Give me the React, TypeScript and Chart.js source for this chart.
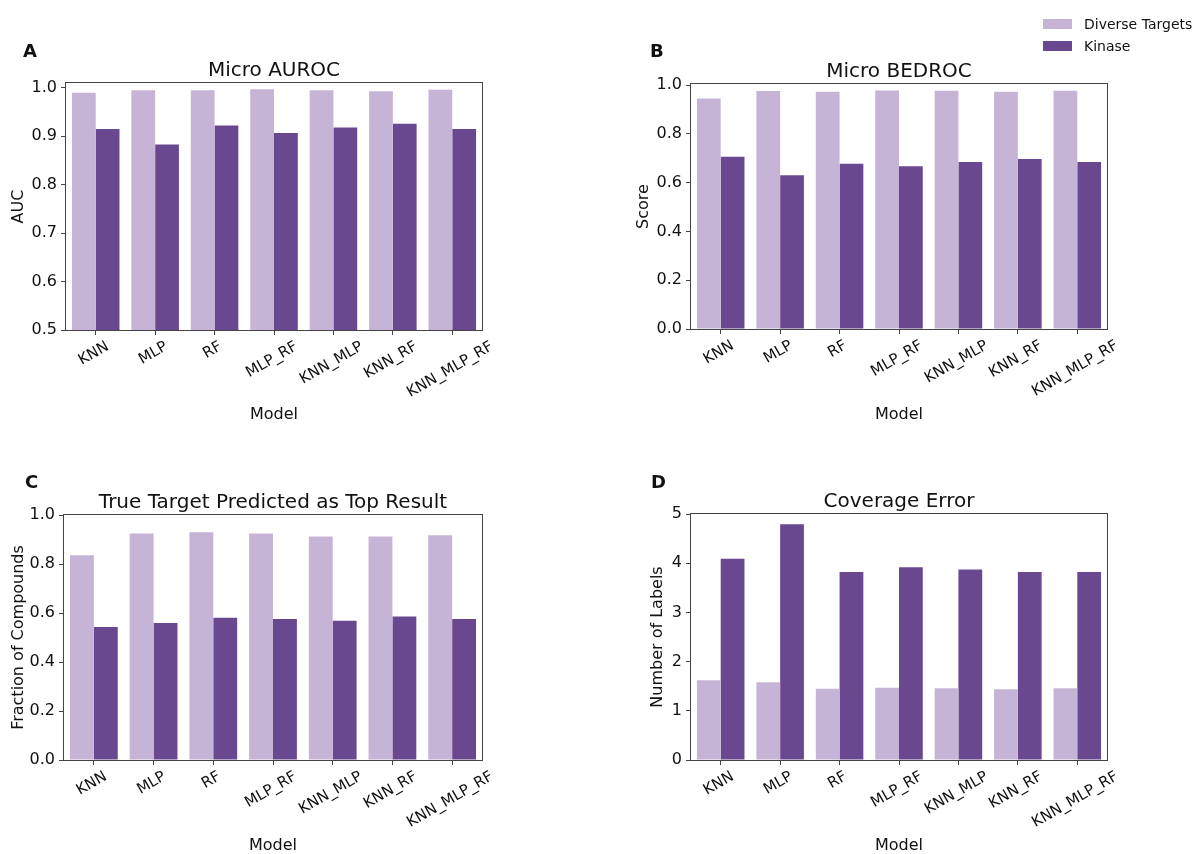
import { useEffect, useRef } from "react";
import { Chart, registerables } from "chart.js";
Chart.register(...registerables);

const models = ["KNN", "MLP", "RF", "MLP_RF", "KNN_MLP", "KNN_RF", "KNN_MLP_RF"];
const seriesNames = ["Diverse Targets", "Kinase"];

const aurocDiverse = [0.99, 0.995, 0.995, 0.997, 0.995, 0.993, 0.996];
const aurocKinase = [0.915, 0.883, 0.922, 0.907, 0.918, 0.926, 0.915];
const bedrocDiverse = [0.946, 0.976, 0.973, 0.978, 0.977, 0.973, 0.977];
const bedrocKinase = [0.707, 0.631, 0.678, 0.668, 0.685, 0.697, 0.685];
const topDiverse = [0.836, 0.925, 0.93, 0.925, 0.912, 0.912, 0.917];
const topKinase = [0.543, 0.559, 0.581, 0.576, 0.568, 0.586, 0.576];
const covDiverse = [1.62, 1.58, 1.45, 1.47, 1.46, 1.44, 1.46];
const covKinase = [4.09, 4.79, 3.82, 3.92, 3.87, 3.82, 3.82];

const aurocTicks = [0.5, 0.6, 0.7, 0.8, 0.9, 1.0];
const scoreTicks = [0.0, 0.2, 0.4, 0.6, 0.8, 1.0];
const countTicks = [0, 1, 2, 3, 4, 5];

const FONT = "'DejaVu Sans', sans-serif";
const TEXT = "#111111";
const SPINE = "#444444";
const LIGHT = "#c6b4d6";
const DARK = "#6a4890";

type Panel = {
  letter: string; title: string; yLabel: string;
  diverse: number[]; kinase: number[]; ticks: number[];
  min: number; max: number; dec: number;
  x0: number; y0: number; w: number; h: number;
  left: number; top: number; right: number; bottom: number;
  yTitleX: number; xTitleY: number; letterX: number; letterY: number;
};

const panels: Panel[] = [
  { letter: "A", title: "Micro AUROC", yLabel: "AUC", diverse: aurocDiverse, kinase: aurocKinase, ticks: aurocTicks,
    min: 0.5, max: 1.01, dec: 1, x0: 0, y0: 0, w: 600, h: 430, left: 66, top: 83, right: 482, bottom: 330,
    yTitleX: 18.5, xTitleY: 415, letterX: 23, letterY: 57 },
  { letter: "B", title: "Micro BEDROC", yLabel: "Score", diverse: bedrocDiverse, kinase: bedrocKinase, ticks: scoreTicks,
    min: 0, max: 1.005, dec: 1, x0: 600, y0: 0, w: 601, h: 430, left: 691, top: 84, right: 1107, bottom: 329,
    yTitleX: 643.5, xTitleY: 415, letterX: 650, letterY: 57 },
  { letter: "C", title: "True Target Predicted as Top Result", yLabel: "Fraction of Compounds", diverse: topDiverse, kinase: topKinase, ticks: scoreTicks,
    min: 0, max: 1.0, dec: 1, x0: 0, y0: 430, w: 600, h: 424, left: 64, top: 515, right: 482, bottom: 760,
    yTitleX: 18.5, xTitleY: 846, letterX: 25, letterY: 488 },
  { letter: "D", title: "Coverage Error", yLabel: "Number of Labels", diverse: covDiverse, kinase: covKinase, ticks: countTicks,
    min: 0, max: 5.0, dec: 0, x0: 600, y0: 430, w: 601, h: 424, left: 691, top: 514, right: 1107, bottom: 760,
    yTitleX: 658, xTitleY: 846, letterX: 651, letterY: 488 },
];

function PanelChart({ p }: { p: Panel }) {
  const ref = useRef<HTMLCanvasElement | null>(null);
  useEffect(() => {
    if (!ref.current) return;
    const xH = p.xTitleY + 8 - p.bottom;
    const padBottom = p.y0 + p.h - (p.bottom + xH);
    const decor = {
      id: "decor",
      afterDraw(chart: any) {
        const { ctx, chartArea: a } = chart;
        ctx.save();
        ctx.strokeStyle = SPINE;
        ctx.lineWidth = 1;
        ctx.strokeRect(Math.round(a.left) - 0.5, Math.round(a.top) - 0.5, Math.round(a.right - a.left) + 1, Math.round(a.bottom - a.top) + 1);
        ctx.fillStyle = TEXT;
        ctx.font = `20px ${FONT}`;
        ctx.textAlign = "center";
        ctx.textBaseline = "alphabetic";
        ctx.fillText(p.title, (a.left + a.right) / 2, a.top - 7);
        ctx.font = `bold 18px ${FONT}`;
        ctx.textAlign = "left";
        ctx.fillText(p.letter, p.letterX - p.x0, p.letterY - p.y0);
        const xs = chart.scales.x;
        ctx.font = `15px ${FONT}`;
        const th = (30 * Math.PI) / 180;
        models.forEach((m, i) => {
          const w = ctx.measureText(m).width;
          const h = 15 * 1.17;
          const bh = w * Math.sin(th) + h * Math.cos(th);
          const cx = xs.getPixelForTick(i) - 2;
          const cy = a.bottom + 8 + bh / 2;
          ctx.save();
          ctx.translate(cx, cy);
          ctx.rotate(-th);
          ctx.textAlign = "center";
          ctx.textBaseline = "middle";
          ctx.fillText(m, 0, 0);
          ctx.restore();
        });
        ctx.restore();
      },
    };
    const chart = new Chart(ref.current, {
      type: "bar",
      data: {
        labels: models,
        datasets: [
          { label: seriesNames[0], data: p.diverse, backgroundColor: LIGHT, borderWidth: 0 },
          { label: seriesNames[1], data: p.kinase, backgroundColor: DARK, borderWidth: 0 },
        ],
      },
      options: {
        animation: false,
        responsive: false,
        devicePixelRatio: 1,
        datasets: { bar: { categoryPercentage: 0.8, barPercentage: 1.0 } },
        layout: {
          autoPadding: false,
          padding: { left: 0, top: p.top - p.y0, right: p.x0 + p.w - p.right, bottom: padBottom },
        },
        plugins: { legend: { display: false }, title: { display: false }, tooltip: { enabled: false } },
        scales: {
          x: {
            type: "category",
            offset: true,
            grid: { display: true, drawOnChartArea: false, drawTicks: true, tickLength: 5, color: SPINE, offset: false },
            border: { display: false },
            ticks: { display: false },
            title: { display: true, text: "Model", color: TEXT, font: { family: FONT, size: 16, lineHeight: 1 }, padding: { top: 0, bottom: 0 } },
            afterFit: (s: any) => { s.height = xH; s.paddingLeft = 0; s.paddingRight = 0; },
          },
          y: {
            type: "linear",
            min: p.min,
            max: p.max,
            grid: { display: true, drawOnChartArea: false, drawTicks: true, tickLength: 5, color: SPINE },
            border: { display: false },
            ticks: {
              color: TEXT,
              padding: 4,
              font: { family: FONT, size: 16 },
              callback: (v: any) => Number(v).toFixed(p.dec),
            },
            title: { display: true, text: p.yLabel, color: TEXT, font: { family: FONT, size: 16, lineHeight: 1 }, padding: { top: p.yTitleX - p.x0 - 8, bottom: 0 } },
            afterBuildTicks: (s: any) => { s.ticks = p.ticks.map((v) => ({ value: v })); },
            afterFit: (s: any) => { s.width = p.left - p.x0; s.paddingTop = 0; s.paddingBottom = 0; },
          },
        },
      },
      plugins: [decor],
    } as any);
    return () => chart.destroy();
  }, [p]);
  return (
    <canvas
      ref={ref}
      width={p.w}
      height={p.h}
      style={{ position: "absolute", left: p.x0, top: p.y0, width: p.w, height: p.h }}
    />
  );
}

export default function App() {
  return (
    <div style={{ position: "fixed", left: 0, top: 0, width: 1201, height: 854, overflow: "hidden", background: "#fff" }}>
      {panels.map((p) => (
        <PanelChart key={p.letter} p={p} />
      ))}
      {seriesNames.map((n, i) => (
        <div key={n}>
          <div style={{ position: "absolute", left: 1043, top: 19 + i * 21.5, width: 29, height: 10, background: i === 0 ? LIGHT : DARK }} />
          <span style={{ position: "absolute", left: 1084, top: 17.2 + i * 21.5, fontFamily: FONT, fontSize: 14, lineHeight: "14px", color: TEXT, whiteSpace: "nowrap" }}>{n}</span>
        </div>
      ))}
    </div>
  );
}
